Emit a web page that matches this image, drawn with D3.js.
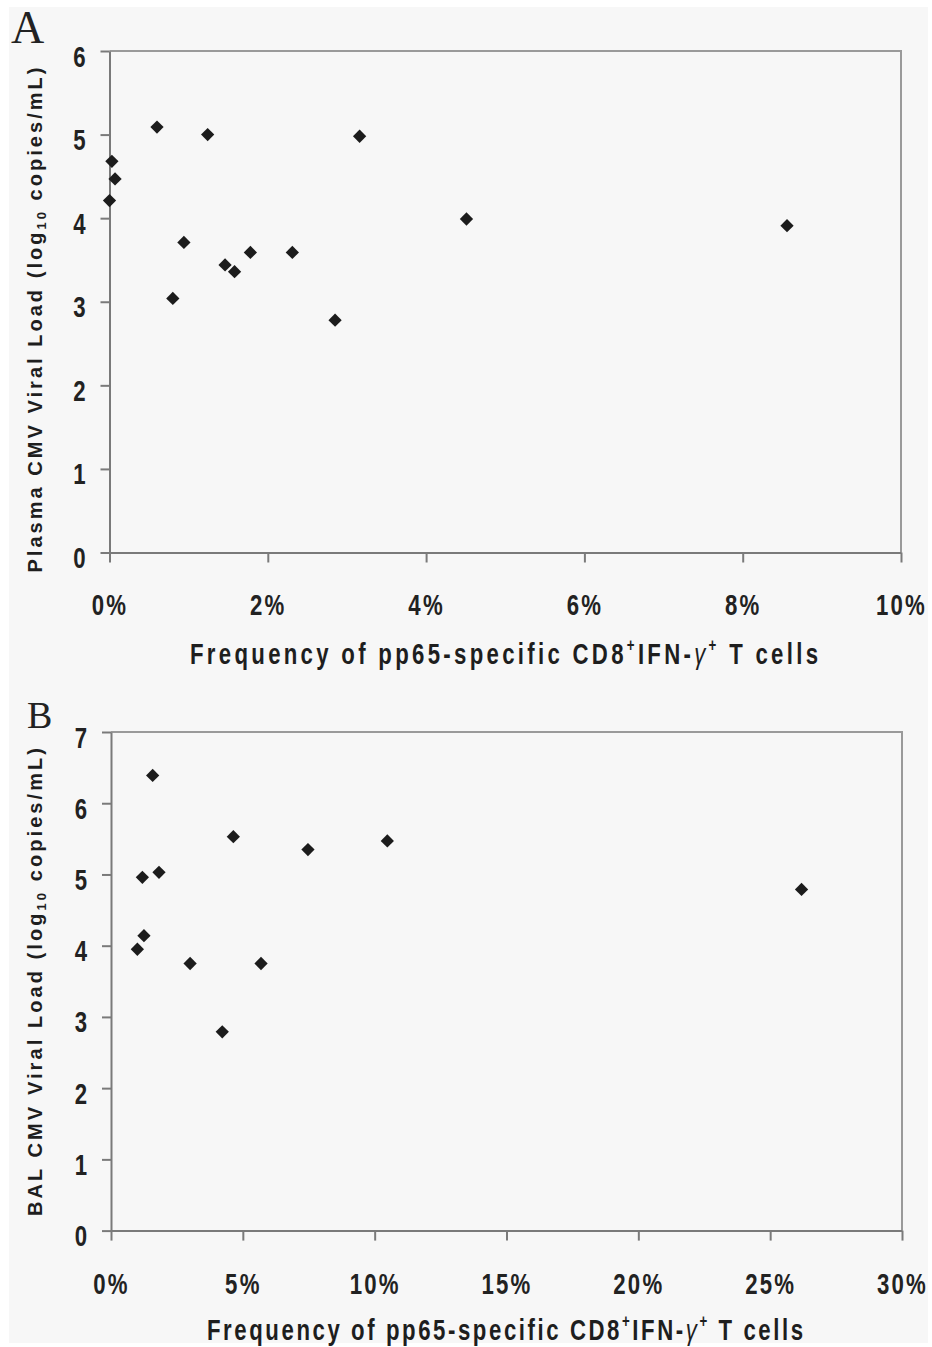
<!DOCTYPE html>
<html>
<head>
<meta charset="utf-8">
<script src="https://cdn.jsdelivr.net/npm/d3@7"></script>
<style>
  body { margin: 0; background: #fff; }
  .tick text { font-family: "Liberation Sans", Arial, sans-serif; font-weight: bold; fill: #222; }
  .axtitle { font-family: "Liberation Sans", Arial, sans-serif; font-weight: bold; fill: #1e1e1e; }
  .panel-letter { font-family: "Liberation Serif", "Times New Roman", serif; fill: #222; }
</style>
</head>
<body>
<script>
// panel A: plasma viral load vs frequency (%)
var plasmaFreq = [0.0, 0.03, 0.07, 0.60, 1.24, 3.16, 4.51, 0.94, 0.80, 1.46, 1.58, 1.78, 2.31, 2.85, 8.56];
var plasmaLoad = [4.21, 4.68, 4.47, 5.09, 5.00, 4.98, 3.99, 3.71, 3.04, 3.44, 3.36, 3.59, 3.59, 2.78, 3.91];
var plasmaXTicks = [0, 2, 4, 6, 8, 10];
var plasmaYTicks = [0, 1, 2, 3, 4, 5, 6];

// panel B: BAL viral load vs frequency (%)
var balFreq = [1.58, 4.64, 7.47, 10.48, 1.19, 1.82, 1.25, 1.00, 3.00, 5.69, 4.22, 26.19];
var balLoad = [6.39, 5.53, 5.35, 5.47, 4.96, 5.03, 4.14, 3.95, 3.75, 3.75, 2.79, 4.79];
var balXTicks = [0, 5, 10, 15, 20, 25, 30];
var balYTicks = [0, 1, 2, 3, 4, 5, 6, 7];

var width = 932, height = 1347;
var squeeze = 0.74; // narrow-font look

var svg = d3.select("body").append("svg")
  .attr("width", width)
  .attr("height", height);

svg.append("rect")
  .attr("x", 9).attr("y", 7)
  .attr("width", 919).attr("height", 1336)
  .attr("fill", "#f7f7f7");

function drawPanel(opt) {
  var x = d3.scaleLinear().domain([0, d3.max(opt.xTicks)]).range([opt.left, opt.right]);
  var y = d3.scaleLinear().domain([0, d3.max(opt.yTicks)]).range([opt.bottom, opt.top]);
  var g = svg.append("g");

  // frame top + right
  g.append("path")
    .attr("d", "M" + opt.left + "," + opt.top + "H" + opt.right + "V" + opt.bottom)
    .attr("fill", "none")
    .attr("stroke", "#9a9a9a")
    .attr("stroke-width", 2);

  var yAxis = g.append("g")
    .attr("transform", "translate(" + opt.left + ",0)")
    .call(d3.axisLeft(y).tickValues(opt.yTicks).tickSize(9).tickPadding(0).tickSizeOuter(0)
      .tickFormat(d3.format("d")));
  yAxis.selectAll(".tick text")
    .attr("font-size", 30)
    .attr("x", -24 / squeeze)
    .attr("dy", "0.5em")
    .attr("transform", "scale(" + squeeze + ",1)");

  var xAxis = g.append("g")
    .attr("transform", "translate(0," + opt.bottom + ")")
    .call(d3.axisBottom(x).tickValues(opt.xTicks).tickSize(10).tickPadding(35).tickSizeOuter(0)
      .tickFormat(function(d) { return d + "%"; }));
  xAxis.selectAll(".tick text")
    .attr("font-size", 30)
    .attr("dy", "0.6em")
    .attr("letter-spacing", 3)
    .attr("transform", "scale(" + squeeze + ",1)");

  svg.selectAll(".domain, .tick line")
    .attr("stroke", "#7a7a7a")
    .attr("stroke-width", 2);

  g.selectAll("path.pt")
    .data(opt.xs)
    .enter()
    .append("path")
    .attr("class", "pt")
    .attr("d", d3.symbol().type(d3.symbolSquare).size(88))
    .attr("fill", "#1c1c1c")
    .attr("transform", function(d, i) {
      return "translate(" + x(d) + "," + y(opt.ys[i]) + ") rotate(45)";
    });

  // x title (narrow glyphs, spaced out)
  var xt = g.append("text")
    .attr("class", "axtitle")
    .attr("transform", "scale(" + squeeze + ",1)")
    .attr("x", opt.xTitleX / squeeze)
    .attr("y", opt.xTitleY)
    .attr("text-anchor", "middle")
    .attr("font-size", 30)
    .attr("textLength", opt.xTitleLen / squeeze)
    .attr("lengthAdjust", "spacing");
  xt.append("tspan").text("Frequency of pp65-specific CD8");
  xt.append("tspan").attr("font-size", 18).attr("dy", -13).text("+");
  xt.append("tspan").attr("dy", 13).text("IFN-");
  xt.append("tspan").attr("font-style", "italic").attr("font-weight", "normal").text("γ");
  xt.append("tspan").attr("font-size", 18).attr("dy", -13).text("+");
  xt.append("tspan").attr("dy", 13).text(" T cells");

  // y title
  var yt = g.append("text")
    .attr("class", "axtitle")
    .attr("transform", "translate(" + opt.yTitleX + "," + opt.yTitleY + ") rotate(-90)")
    .attr("text-anchor", "middle")
    .attr("font-size", 20)
    .attr("textLength", opt.yTitleLen)
    .attr("lengthAdjust", "spacing");
  yt.append("tspan").text(opt.yLabel + " (log");
  yt.append("tspan").attr("font-size", 13).attr("dy", 4).text("10");
  yt.append("tspan").attr("dy", -4).text(" copies/mL)");

  svg.append("text")
    .attr("class", "panel-letter")
    .attr("x", opt.letterX)
    .attr("y", opt.letterY)
    .attr("font-size", opt.letterSize)
    .text(opt.letter);
}

drawPanel({
  xs: plasmaFreq, ys: plasmaLoad, xTicks: plasmaXTicks, yTicks: plasmaYTicks,
  left: 109.5, right: 901, top: 51, bottom: 552.5,
  xTitleX: 504, xTitleY: 664, xTitleLen: 628,
  yTitleX: 42, yTitleY: 320, yTitleLen: 505,
  yLabel: "Plasma CMV Viral Load",
  letter: "A", letterX: 11, letterY: 43, letterSize: 46
});

drawPanel({
  xs: balFreq, ys: balLoad, xTicks: balXTicks, yTicks: balYTicks,
  left: 111, right: 902, top: 732, bottom: 1230.6,
  xTitleX: 505, xTitleY: 1340, xTitleLen: 596,
  yTitleX: 42, yTitleY: 982, yTitleLen: 468,
  yLabel: "BAL CMV Viral Load",
  letter: "B", letterX: 27, letterY: 728, letterSize: 38
});
</script>
</body>
</html>
